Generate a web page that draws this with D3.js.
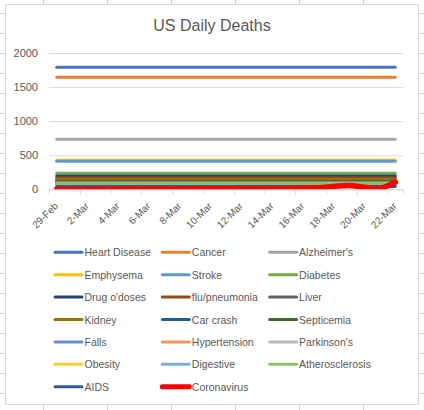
<!DOCTYPE html>
<html>
<head>
<meta charset="utf-8">
<script src="https://cdn.jsdelivr.net/npm/d3@7"></script>
<style>
  body { margin: 0; background: #fff; }
  svg text { font-family: "Liberation Sans", Arial, sans-serif; fill: #595959; }
</style>
</head>
<body>
<div id="chart"></div>
<script>
// dates on the category axis, 29-Feb .. 22-Mar
var dates = ["29-Feb","1-Mar","2-Mar","3-Mar","4-Mar","5-Mar","6-Mar","7-Mar","8-Mar","9-Mar","10-Mar",
  "11-Mar","12-Mar","13-Mar","14-Mar","15-Mar","16-Mar","17-Mar","18-Mar","19-Mar","20-Mar","21-Mar","22-Mar"];

// average daily deaths per cause (flat lines)
var causes = ["Heart Disease","Cancer","Alzheimer's","Emphysema","Stroke","Diabetes","Drug o'doses",
  "flu/pneumonia","Liver","Kidney","Car crash","Septicemia","Falls","Hypertension","Parkinson's",
  "Obesity","Digestive","Atherosclerosis","AIDS"];
var dailyAvg = [1790, 1643, 734, 425, 410, 235, 195, 165, 120, 145, 105, 115, 95, 90, 85, 75, 65, 80, 40];

// coronavirus deaths per day
var coronavirus = [1, 1, 2, 2, 3, 3, 4, 5, 6, 7, 8, 9, 10, 11, 12, 12, 14, 23, 42, 57, 30, 13, 107];

var yTicks = [0, 500, 1000, 1500, 2000];

var colors = ["#4472C4","#ED7D31","#A5A5A5","#FFC000","#5B9BD5","#70AD47","#264478","#9E480E",
  "#636363","#997300","#255E91","#43682B","#698ED0","#F1975A","#B7B7B7","#FFCD33","#7CAFDD",
  "#8CC168","#335AA1"];
var covidColor = "#FF0000";

var W = 424, H = 410;
var svg = d3.select('#chart').append('svg').attr('width', W).attr('height', H);

// spreadsheet cell grid behind the chart
var sheet = svg.append('g').attr('stroke', '#d4d4d4').attr('stroke-width', 1);
sheet.selectAll('line.v').data(d3.range(43, W, 64)).enter().append('line')
  .attr('x1', function(d) { return d + 0.5; }).attr('x2', function(d) { return d + 0.5; })
  .attr('y1', 0).attr('y2', H);
sheet.selectAll('line.h').data(d3.range(13, H, 20)).enter().append('line')
  .attr('y1', function(d) { return d + 0.5; }).attr('y2', function(d) { return d + 0.5; })
  .attr('x1', 0).attr('x2', W);

// chart area
svg.append('rect').attr('x', 5.5).attr('y', 4.5).attr('width', 413).attr('height', 400)
  .attr('fill', '#fff').attr('stroke', '#d9d9d9');

svg.append('text').attr('x', 212).attr('y', 31).attr('text-anchor', 'middle')
  .attr('font-size', 16).text('US Daily Deaths');

var plotL = 49, plotR = 403, plotT = 53, plotB = 189.3;
var x = d3.scaleLinear().domain([-0.5, dates.length - 0.5]).range([plotL, plotR]);
var y = d3.scaleLinear().domain([0, 2000]).range([plotB, plotT]);

svg.append('clipPath').attr('id', 'plotClip').append('rect')
  .attr('x', plotL).attr('y', plotT - 10).attr('width', plotR - plotL).attr('height', plotB - plotT + 10);

// y gridlines + labels
var yAxis = svg.append('g').attr('transform', 'translate(' + plotL + ',0)')
  .call(d3.axisLeft(y).tickValues(yTicks).tickSize(-(plotR - plotL)).tickPadding(11).tickFormat(d3.format('d')));
yAxis.select('.domain').remove();
yAxis.selectAll('line').attr('stroke', '#d9d9d9');
yAxis.selectAll('text').attr('font-size', 11).style('font-family', '"Liberation Sans", Arial, sans-serif');

// x axis line and tick marks
var xAxis = svg.append('g').attr('transform', 'translate(0,' + plotB + ')')
  .call(d3.axisBottom(x).tickValues(d3.range(-0.5, dates.length - 1, 2)).tickSize(5).tickFormat(''));
xAxis.selectAll('line, path').attr('stroke', '#d9d9d9');

// rotated date labels every 2 days
var xLab = svg.append('g').attr('transform', 'translate(0,' + plotB + ')')
  .call(d3.axisBottom(x).tickValues(d3.range(0, dates.length, 2)).tickSize(0)
    .tickFormat(function(i) { return dates[i]; }));
xLab.select('.domain').remove();
xLab.selectAll('text')
  .attr('font-size', 10).style('font-family', '"Liberation Sans", Arial, sans-serif')
  .attr('text-anchor', 'end').attr('y', 0).attr('dy', 0)
  .attr('transform', 'translate(1.6,17.3) rotate(-45)');

// lines
var line = d3.line()
  .x(function(d) { return x(d[0]); })
  .y(function(d) { return y(d[1]); });

var plot = svg.append('g').attr('clip-path', 'url(#plotClip)')
  .attr('fill', 'none').attr('stroke-linecap', 'round').attr('stroke-linejoin', 'round');
plot.selectAll('path.cause').data(dailyAvg).enter().append('path')
  .attr('class', 'cause')
  .attr('d', function(v) { return line(dates.map(function(d, i) { return [i, v]; })); })
  .attr('stroke', function(v, i) { return colors[i]; })
  .attr('stroke-width', 3);

plot.append('path')
  .attr('d', line.curve(d3.curveCatmullRom)(coronavirus.map(function(v, i) { return [i, v]; })))
  .attr('stroke', covidColor).attr('stroke-width', 5.5);

// legend, 3 columns
var legendNames = causes.concat(['Coronavirus']);
var legendColors = colors.concat([covidColor]);
var lg = svg.append('g').selectAll('g').data(legendNames).enter().append('g')
  .attr('transform', function(d, i) {
    return 'translate(' + (55 + (i % 3) * 107.3) + ',' + (252.3 + Math.floor(i / 3) * 22.4) + ')';
  });
lg.append('line').attr('x1', 0).attr('x2', 27).attr('y1', 0).attr('y2', 0)
  .attr('stroke', function(d, i) { return legendColors[i]; })
  .attr('stroke-width', function(d) { return d == 'Coronavirus' ? 5 : 3; })
  .attr('stroke-linecap', 'round');
lg.append('text').attr('x', 29.5).attr('y', 4).attr('font-size', 10.5).text(function(d) { return d; });
</script>
</body>
</html>
